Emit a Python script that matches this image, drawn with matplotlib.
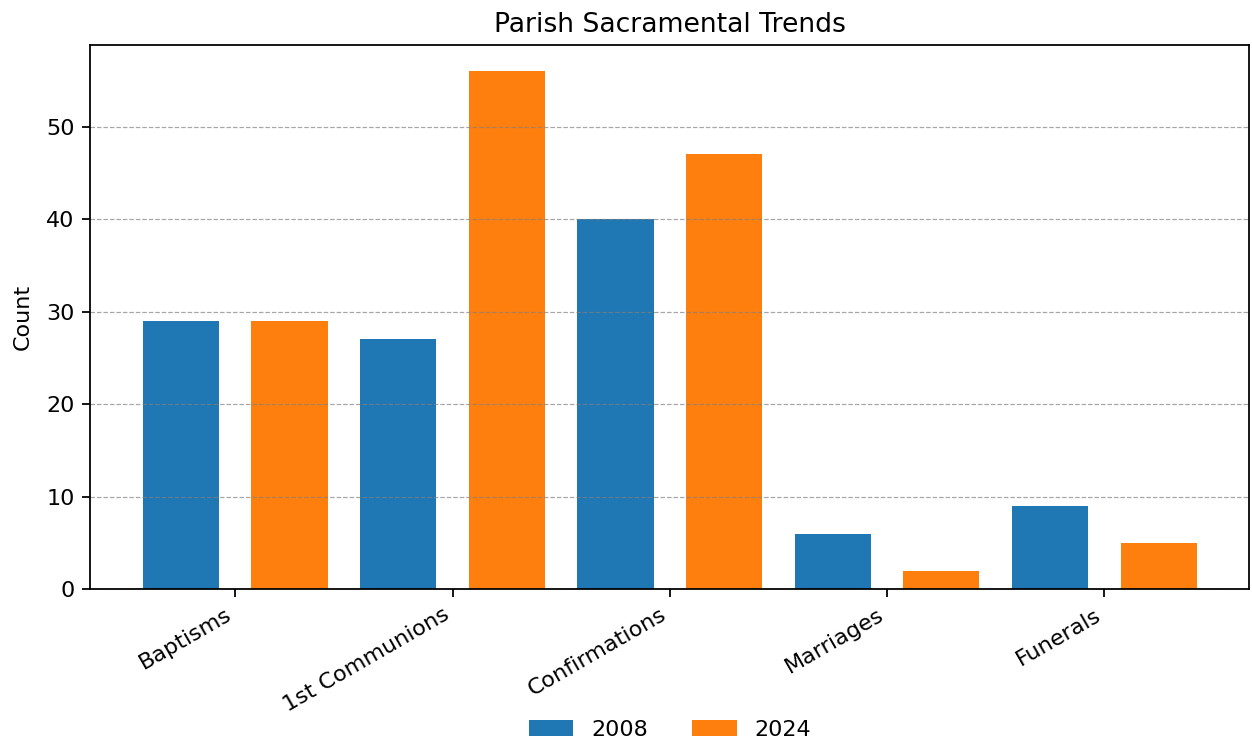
import matplotlib.pyplot as plt
import numpy as np

categories = ["Baptisms", "1st Communions", "Confirmations", "Marriages", "Funerals"]
years = ["2008", "2024"]
counts_2008 = [29, 27, 40, 6, 9]
counts_2024 = [29, 56, 47, 2, 5]

DPI = 160
fig = plt.figure(figsize=(1252 / DPI, 741 / DPI), dpi=DPI)
ax = fig.add_axes([0.072, 0.205, 0.926, 0.734])

x = np.arange(len(categories))
w = 0.35
ax.bar(x - 0.25, counts_2008, w, color="#1f77b4", label=years[0])
ax.bar(x + 0.25, counts_2024, w, color="#ff7f0e", label=years[1])

ax.set_xticks(x)
ax.set_xticklabels(categories, rotation=30, ha="right")
ax.set_ylabel("Count", labelpad=6)
ax.set_title("Parish Sacramental Trends")
ax.yaxis.grid(True, linestyle="--", color="gray", alpha=0.7, linewidth=0.55)

# legend centred under the axes, near the bottom edge of the figure
ax.legend(loc="center", bbox_to_anchor=(0.535, 0.015), bbox_transform=fig.transFigure,
          ncol=2, frameon=False)

fig.savefig("out.png", dpi=DPI)
